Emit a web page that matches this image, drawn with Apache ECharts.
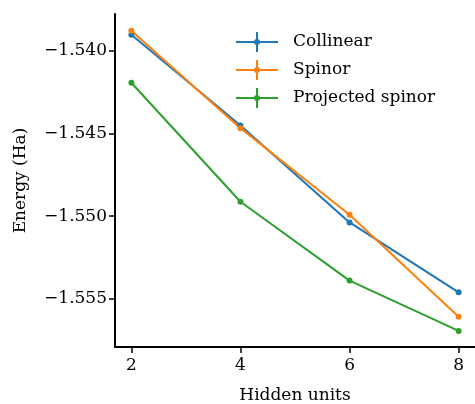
<!DOCTYPE html>
<html>
<head>
<meta charset="utf-8">
<script src="https://cdn.jsdelivr.net/npm/echarts@6/dist/echarts.min.js"></script>
<style>
  html, body { margin: 0; padding: 0; background: #fff; }
  #chart { width: 475px; height: 404px; }
</style>
</head>
<body>
<div id="chart"></div>
<script>
const hiddenUnits = [2, 4, 6, 8]
const collinear = [-1.53905, -1.54453, -1.55038, -1.55460]
const spinor = [-1.53881, -1.54469, -1.54992, -1.55607]
const projectedSpinor = [-1.54195, -1.54913, -1.55389, -1.55693]
const xTicks = [2, 4, 6, 8]
const yTicks = [-1.555, -1.550, -1.545, -1.540]

const FONT = '"DejaVu Serif", "Liberation Serif", serif'
const colors = ['#1f77b4', '#ff7f0e', '#2ca02c']
// errorbar-style legend handle: line + vertical bar + dot
const icon = 'path://M0,9 L42,9 L42,11 L0,11 Z M20,0 L22,0 L22,20 L20,20 Z M24,10 A3,3 0 1 1 18,10 A3,3 0 1 1 24,10 Z'

const chart = echarts.init(document.getElementById('chart'), null, {renderer: 'canvas'})

const mk = (name, vals, color) => ({
  name,
  type: 'line',
  data: hiddenUnits.map((x, i) => [x, vals[i]]),
  symbol: 'circle',
  symbolSize: 6,
  lineStyle: {width: 2, color},
  itemStyle: {color},
  animation: false
})

chart.setOption({
  animation: false,
  grid: {left: 115, right: 0, top: 14, bottom: 57, outerBoundsMode: 'none', containLabel: false},
  legend: {
    orient: 'vertical',
    left: 231,
    top: 27,
    itemWidth: 42,
    itemHeight: 20,
    itemGap: 8,
    icon,
    textStyle: {fontFamily: FONT, fontSize: 17, color: '#000', padding: [0, 0, 0, 10]},
    data: ['Collinear', 'Spinor', 'Projected spinor']
  },
  xAxis: {
    type: 'value',
    min: 1.7,
    max: 8.3,
    name: 'Hidden units',
    nameLocation: 'middle',
    nameGap: 40,
    nameTextStyle: {fontFamily: FONT, fontSize: 17, color: '#000'},
    axisLine: {lineStyle: {color: '#000', width: 2}},
    axisTick: {show: true, length: 6, lineStyle: {color: '#000', width: 1.5}, customValues: xTicks},
    axisLabel: {fontFamily: FONT, fontSize: 17, color: '#000', margin: 10, customValues: xTicks},
    splitLine: {show: false}
  },
  yAxis: {
    type: 'value',
    min: -1.5579,
    max: -1.5378,
    name: 'Energy (Ha)',
    nameLocation: 'middle',
    nameGap: 86,
    nameTextStyle: {fontFamily: FONT, fontSize: 17, color: '#000'},
    axisLine: {show: true, lineStyle: {color: '#000', width: 2}},
    axisTick: {show: true, length: 6, lineStyle: {color: '#000', width: 1.5}, customValues: yTicks},
    axisLabel: {
      fontFamily: FONT, fontSize: 17, color: '#000', margin: 8, customValues: yTicks,
      formatter: v => '\u2212' + Math.abs(v).toFixed(3)
    },
    splitLine: {show: false}
  },
  series: [
    mk('Collinear', collinear, colors[0]),
    mk('Spinor', spinor, colors[1]),
    mk('Projected spinor', projectedSpinor, colors[2])
  ]
})
</script>
</body>
</html>
